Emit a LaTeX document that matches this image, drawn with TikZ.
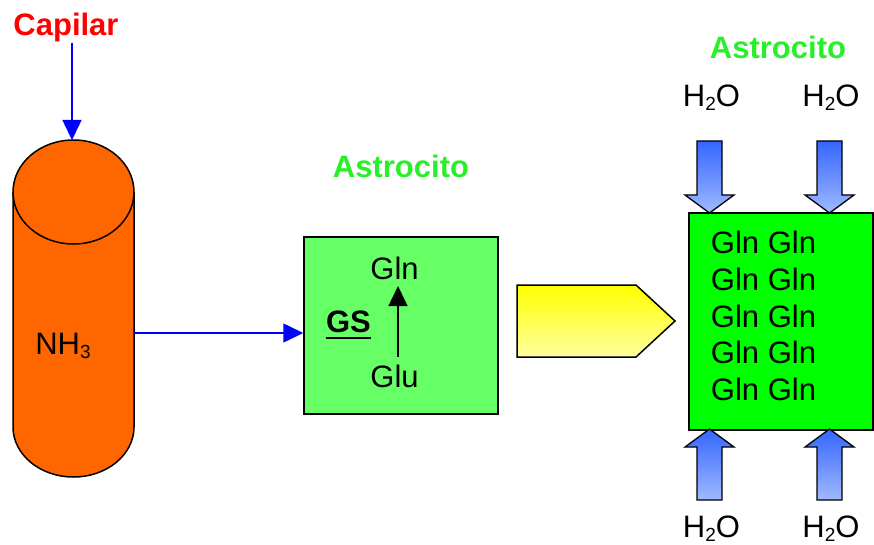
\documentclass[tikz,border=0pt]{standalone}
\usepackage{fontspec}
\setmainfont{Liberation Sans}
\usetikzlibrary{arrows.meta}
\newcommand\mysub[1]{\raisebox{-4pt}{\fontsize{19}{19}\selectfont #1}}
\definecolor{cyl}{RGB}{255,102,0}
\definecolor{boxone}{RGB}{102,255,102}
\definecolor{boxtwo}{RGB}{0,255,0}
\definecolor{astro}{RGB}{40,240,40}
\definecolor{capred}{RGB}{255,0,0}
\definecolor{lineblue}{RGB}{0,0,255}
\definecolor{arrtop}{RGB}{51,102,255}
\definecolor{arrbot}{RGB}{160,185,255}
\definecolor{yeltop}{RGB}{255,255,0}
\definecolor{yelbot}{RGB}{255,255,160}
\begin{document}
\begin{tikzpicture}[x=1pt,y=-1pt,
  txt/.style={font=\fontsize{31}{36}\selectfont, inner sep=0pt, anchor=base},
  btxt/.style={txt, font=\fontsize{31}{36}\selectfont\bfseries},
  bline/.style={draw=lineblue, line width=1.5pt, -{Triangle[length=20pt,width=19pt]}},
  kline/.style={draw=black, line width=1.5pt, -{Triangle[length=20pt,width=19pt]}},
  outl/.style={draw=black, line width=1.5pt},
  blockarrow/.style={top color=arrtop, bottom color=arrbot, draw=black, line width=1.3pt}]
\useasboundingbox (0,0) rectangle (874,545);

% cylinder
\fill[cyl] (13,192) -- (13,427) arc[start angle=180,end angle=360,x radius=60.5pt,y radius=50pt] -- (134,192) -- cycle;
\draw[outl] (13,192) -- (13,427) arc[start angle=180,end angle=360,x radius=60.5pt,y radius=50pt] -- (134,192);
\draw[outl, fill=cyl] (73.5,192) ellipse[x radius=60.5pt, y radius=52pt];
\coordinate (cyltop) at (72,140);
\coordinate (cylr) at (134,333);
\node[txt] (nh3) at (63,354) {NH\mysub{3}};

% capilar
\node[btxt, text=capred] (capilar) at (66,36) {Capilar};
\draw[bline] (capilar.south -| cyltop) -- (cyltop);

% box 1
\node[outl, fill=boxone, minimum width=194pt, minimum height=177pt, inner sep=0pt] (box1) at (401,325.5) {};
\node[btxt, text=astro] (astro1) at (401,178) {Astrocito};
\draw[bline] (cylr) -- (cylr -| box1.west);
\node[txt] (gln) at (394.5,279) {Gln};
\node[txt] (glu) at (394.5,387) {Glu};
\coordinate (glutop) at (398,357);
\coordinate (glnbot) at (398,286);
\draw[kline] (glutop) -- (glnbot);
\node[btxt] (gs) at (348.5,332) {GS};
\draw[line width=2.8pt] ([yshift=-6pt]gs.base west) -- ([yshift=-6pt]gs.base east);

% yellow pentagon arrow
\shade[top color=yeltop, bottom color=yelbot] (517,285) -- (636,285) -- (675,321) -- (636,357) -- (517,357) -- cycle;
\draw[outl] (517,285) -- (636,285) -- (675,321) -- (636,357) -- (517,357) -- cycle;

% box 2
\node[outl, fill=boxtwo, minimum width=184pt, minimum height=217pt, inner sep=0pt] (box2) at (781,321.5) {};
\node[btxt, text=astro] (astro2) at (778,59) {Astrocito};
\foreach \yy [count=\i] in {253,290,327,363,400}{
  \node[txt] (gg\i) at (763.5,\yy) {Gln Gln};
}

% water labels
\node[txt] (wtl) at (711.5,107) {H\mysub{2}O};
\node[txt] (wtr) at (831,107) {H\mysub{2}O};
\node[txt] (wbl) at (711.5,537) {H\mysub{2}O};
\node[txt] (wbr) at (831,537) {H\mysub{2}O};

% block arrows down
\shadedraw[blockarrow] (697,141) -- (722,141) -- (722,195) -- (734,195) -- (709.5,213) -- (685,195) -- (697,195) -- cycle;
\shadedraw[blockarrow] (817,141) -- (842,141) -- (842,195) -- (854,195) -- (829.5,213) -- (805,195) -- (817,195) -- cycle;
% block arrows up
\shadedraw[blockarrow] (697,500) -- (722,500) -- (722,447) -- (734,447) -- (709.5,429) -- (685,447) -- (697,447) -- cycle;
\shadedraw[blockarrow] (817,500) -- (842,500) -- (842,447) -- (854,447) -- (829.5,429) -- (805,447) -- (817,447) -- cycle;
\end{tikzpicture}
\end{document}
